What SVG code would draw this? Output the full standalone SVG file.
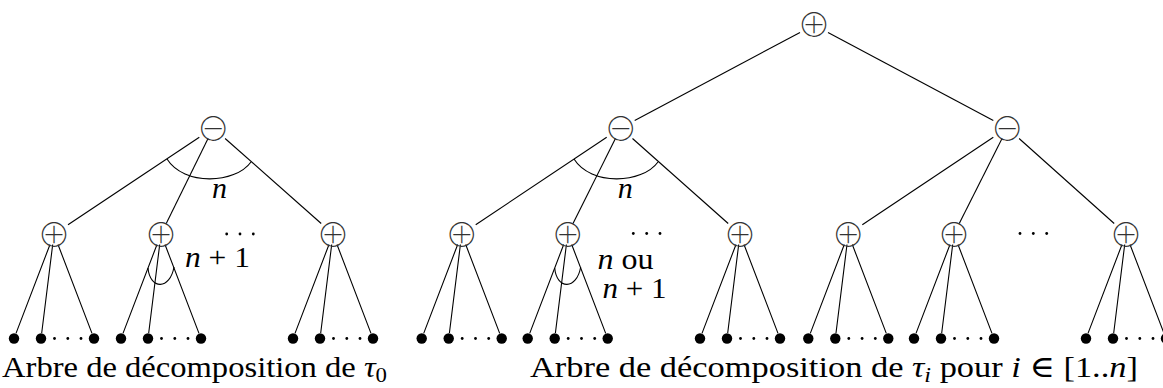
<svg xmlns="http://www.w3.org/2000/svg" width="1163" height="388" viewBox="0 0 1163 388">
<style>
.edge{stroke:#000;stroke-width:1.1;fill:none}
.leaf{fill:#000}
.dot{fill:#000}
.op{font-family:'Noto Sans CJK JP','Noto Sans CJK SC','DejaVu Sans',sans-serif;font-size:33px;font-weight:100;fill:#333;text-anchor:middle}
.lbl{font-family:'Liberation Serif','Times New Roman','DejaVu Serif',serif;font-size:30px;fill:#000}
.it{font-style:italic}
</style>
<rect width="1163" height="388" fill="#fff"/>
<g id="connectors">
<line class="edge" x1="199.3" y1="137.3" x2="68" y2="224.7"/>
<line class="edge" x1="208.05" y1="138.5" x2="166.25" y2="223.5"/>
<line class="edge" x1="225.1" y1="138.5" x2="321.2" y2="223.5"/>
<line class="edge" x1="800" y1="32.5" x2="634.7" y2="120.5"/>
<line class="edge" x1="828" y1="32.5" x2="993.3" y2="120.5"/>
<line class="edge" x1="606.7" y1="137.3" x2="475.7" y2="224.7"/>
<line class="edge" x1="615.45" y1="138.5" x2="573" y2="223.5"/>
<line class="edge" x1="632.5" y1="138.5" x2="728.2" y2="223.5"/>
<line class="edge" x1="993.3" y1="137.3" x2="862.3" y2="224.7"/>
<line class="edge" x1="1002.05" y1="138.5" x2="959.25" y2="223.5"/>
<line class="edge" x1="1019.1" y1="138.5" x2="1114.2" y2="223.5"/>
<path class="edge" d="M50,244.5L16,333.4M52.7,244.5L41.7,333M58,244.5L92,333.4"/>
<path class="edge" d="M157,244.5L123,333.4M159.7,244.5L148.7,333M165,244.5L199,333.4"/>
<path class="edge" d="M329,244.5L295,333.4M331.7,244.5L320.7,333M337,244.5L371,333.4"/>
<path class="edge" d="M457.7,244.5L423.7,333.4M460.4,244.5L449.4,333M465.7,244.5L499.7,333.4"/>
<path class="edge" d="M563.7,244.5L529.7,333.4M566.4,244.5L555.4,333M571.7,244.5L605.7,333.4"/>
<path class="edge" d="M736,244.5L702,333.4M738.7,244.5L727.7,333M744,244.5L778,333.4"/>
<path class="edge" d="M844.3,244.5L810.3,333.4M847,244.5L836,333M852.3,244.5L886.3,333.4"/>
<path class="edge" d="M950,244.5L916,333.4M952.7,244.5L941.7,333M958,244.5L992,333.4"/>
<path class="edge" d="M1122,244.5L1088,333.4M1124.7,244.5L1113.7,333M1130,244.5L1164,333.4"/>
<path class="edge" d="M167,159 C184,186 235,184 251,162"/>
<path class="edge" d="M574,159 C591,186 642,184 658,162"/>
<path class="edge" d="M148,268 C150,290 170,290 174,267"/>
<path class="edge" d="M554.7,268 C556.7,290 576.7,290 580.7,267"/>
</g>
<g id="top-plus"><text class="op" x="814" y="37.3" font-size="32">⊕</text></g>
<g id="left-minus"><text class="op" x="213.3" y="140.5">⊖</text></g>
<g id="m1-minus"><text class="op" x="620.7" y="140.5">⊖</text></g>
<g id="m2-minus"><text class="op" x="1007.3" y="140.5">⊖</text></g>
<g id="l-plus1"><text class="op" x="54" y="246.5">⊕</text></g>
<g id="l-plus2"><text class="op" x="161" y="246.5">⊕</text></g>
<g id="l-plus3"><text class="op" x="333" y="246.5">⊕</text></g>
<g id="m1-plus1"><text class="op" x="461.7" y="246.5">⊕</text></g>
<g id="m1-plus2"><text class="op" x="567.7" y="246.5">⊕</text></g>
<g id="m1-plus3"><text class="op" x="740" y="246.5">⊕</text></g>
<g id="m2-plus1"><text class="op" x="848.3" y="246.5">⊕</text></g>
<g id="m2-plus2"><text class="op" x="954" y="246.5">⊕</text></g>
<g id="m2-plus3"><text class="op" x="1126" y="246.5">⊕</text></g>
<g id="leaves">
<circle class="leaf" cx="14" cy="338.5" r="5.2"/><circle class="leaf" cx="41" cy="338.5" r="5.2"/><circle class="leaf" cx="94" cy="338.5" r="5.2"/>
<circle class="dot" cx="54.5" cy="338.5" r="1.4"/><circle class="dot" cx="67.8" cy="338.5" r="1.4"/><circle class="dot" cx="81" cy="338.5" r="1.4"/>
<circle class="leaf" cx="121" cy="338.5" r="5.2"/><circle class="leaf" cx="148" cy="338.5" r="5.2"/><circle class="leaf" cx="201" cy="338.5" r="5.2"/>
<circle class="dot" cx="161.5" cy="338.5" r="1.4"/><circle class="dot" cx="174.8" cy="338.5" r="1.4"/><circle class="dot" cx="188" cy="338.5" r="1.4"/>
<circle class="leaf" cx="293" cy="338.5" r="5.2"/><circle class="leaf" cx="320" cy="338.5" r="5.2"/><circle class="leaf" cx="373" cy="338.5" r="5.2"/>
<circle class="dot" cx="333.5" cy="338.5" r="1.4"/><circle class="dot" cx="346.8" cy="338.5" r="1.4"/><circle class="dot" cx="360" cy="338.5" r="1.4"/>
<circle class="leaf" cx="421.7" cy="338.5" r="5.2"/><circle class="leaf" cx="448.7" cy="338.5" r="5.2"/><circle class="leaf" cx="501.7" cy="338.5" r="5.2"/>
<circle class="dot" cx="462.2" cy="338.5" r="1.4"/><circle class="dot" cx="475.5" cy="338.5" r="1.4"/><circle class="dot" cx="488.7" cy="338.5" r="1.4"/>
<circle class="leaf" cx="527.7" cy="338.5" r="5.2"/><circle class="leaf" cx="554.7" cy="338.5" r="5.2"/><circle class="leaf" cx="607.7" cy="338.5" r="5.2"/>
<circle class="dot" cx="568.2" cy="338.5" r="1.4"/><circle class="dot" cx="581.5" cy="338.5" r="1.4"/><circle class="dot" cx="594.7" cy="338.5" r="1.4"/>
<circle class="leaf" cx="700" cy="338.5" r="5.2"/><circle class="leaf" cx="727" cy="338.5" r="5.2"/><circle class="leaf" cx="780" cy="338.5" r="5.2"/>
<circle class="dot" cx="740.5" cy="338.5" r="1.4"/><circle class="dot" cx="753.8" cy="338.5" r="1.4"/><circle class="dot" cx="767" cy="338.5" r="1.4"/>
<circle class="leaf" cx="808.3" cy="338.5" r="5.2"/><circle class="leaf" cx="835.3" cy="338.5" r="5.2"/><circle class="leaf" cx="888.3" cy="338.5" r="5.2"/>
<circle class="dot" cx="848.8" cy="338.5" r="1.4"/><circle class="dot" cx="862.1" cy="338.5" r="1.4"/><circle class="dot" cx="875.3" cy="338.5" r="1.4"/>
<circle class="leaf" cx="914" cy="338.5" r="5.2"/><circle class="leaf" cx="941" cy="338.5" r="5.2"/><circle class="leaf" cx="994" cy="338.5" r="5.2"/>
<circle class="dot" cx="954.5" cy="338.5" r="1.4"/><circle class="dot" cx="967.8" cy="338.5" r="1.4"/><circle class="dot" cx="981" cy="338.5" r="1.4"/>
<circle class="leaf" cx="1086" cy="338.5" r="5.2"/><circle class="leaf" cx="1113" cy="338.5" r="5.2"/><circle class="leaf" cx="1166" cy="338.5" r="5.2"/>
<circle class="dot" cx="1126.5" cy="338.5" r="1.4"/><circle class="dot" cx="1139.8" cy="338.5" r="1.4"/><circle class="dot" cx="1153" cy="338.5" r="1.4"/>
</g>
<g id="ellipses">
<circle class="dot" cx="226.7" cy="234" r="1.4"/><circle class="dot" cx="240" cy="234" r="1.4"/><circle class="dot" cx="253.3" cy="234" r="1.4"/>
<circle class="dot" cx="633.3" cy="233.5" r="1.4"/><circle class="dot" cx="646.7" cy="233.5" r="1.4"/><circle class="dot" cx="660" cy="233.5" r="1.4"/>
<circle class="dot" cx="1020" cy="233.5" r="1.4"/><circle class="dot" cx="1033.3" cy="233.5" r="1.4"/><circle class="dot" cx="1046.7" cy="233.5" r="1.4"/>
</g>
<g id="labels">
<text class="lbl it" x="219.5" y="197.5" text-anchor="middle">n</text>
<text class="lbl it" x="625.3" y="197.5" text-anchor="middle">n</text>
<text class="lbl" x="185" y="266.7" textLength="65" lengthAdjust="spacingAndGlyphs"><tspan class="it">n</tspan> + 1</text>
<text class="lbl" x="597.5" y="268.5" textLength="56" lengthAdjust="spacingAndGlyphs"><tspan class="it">n</tspan> ou</text>
<text class="lbl" x="602.5" y="298.3" textLength="64" lengthAdjust="spacingAndGlyphs"><tspan class="it">n</tspan> + 1</text>
<text class="lbl" x="2" y="376.7" textLength="385" lengthAdjust="spacingAndGlyphs">Arbre de décomposition de <tspan class="it">τ</tspan><tspan font-size="21" dy="5">0</tspan></text>
<text class="lbl" x="530" y="376.7" textLength="608" lengthAdjust="spacingAndGlyphs">Arbre de décomposition de <tspan class="it">τ</tspan><tspan font-size="21" dy="5" class="it">i</tspan><tspan dy="-5"> pour </tspan><tspan class="it">i</tspan> ∈ [1..<tspan class="it">n</tspan>]</text>
</g>
</svg>
